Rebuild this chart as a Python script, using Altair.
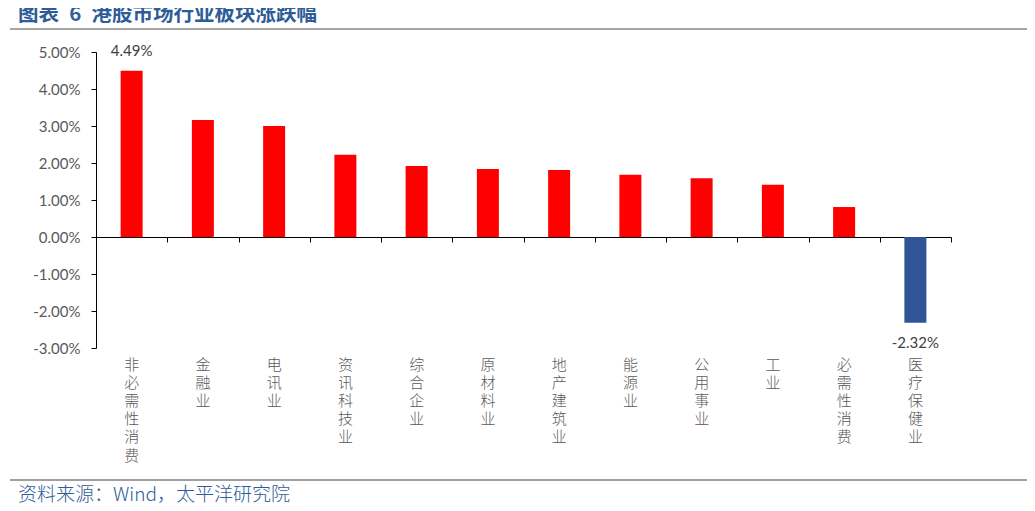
import altair as alt
import pandas as pd

categories = ["非必需性消费", "金融业", "电讯业", "资讯科技业", "综合企业", "原材料业",
              "地产建筑业", "能源业", "公用事业", "工业", "必需性消费", "医疗保健业"]
values = [4.49, 3.16, 3.00, 2.22, 1.92, 1.84, 1.81, 1.68, 1.59, 1.41, 0.81, -2.32]
labeled = ["非必需性消费", "医疗保健业"]

title_text = "图表\u20026\u2002港股市场行业板块涨跌幅"
source_text = "资料来源：Wind，太平洋研究院"

df = pd.DataFrame({"name": categories, "v": [x / 100 for x in values]})

CJK = "Noto Sans CJK SC"
NUM = "Lato"
GRAY = "#595959"
BLUE = "#2F5597"

xscale = alt.Scale(domain=categories, paddingInner=0, paddingOuter=0)
yscale = alt.Scale(domain=[-0.03, 0.05], nice=False, zero=False)
y_axis = alt.Axis(tickCount=8, format=".2%",
                  labelOverlap=False, labelFlush=False,
                  domainColor="black", tickColor="black", tickSize=5,
                  labelPadding=11, labelColor=GRAY, labelFont=NUM, labelFontSize=15,
                  grid=False)

def ych():
    return alt.Y("v:Q", scale=yscale, title=None, axis=y_axis)

base = alt.Chart(df)

bars = base.mark_bar(size=22).encode(
    x=alt.X("name:N", scale=xscale, sort=categories, title=None,
            axis=alt.Axis(orient="bottom", offset=-111, labels=False, domain=True,
                          domainColor="black", domainWidth=1, ticks=True, tickColor="black",
                          tickSize=5, tickBand="extent", grid=False)),
    y=ych(),
    color=alt.condition(alt.datum.v >= 0, alt.value("#FF0000"), alt.value(BLUE)),
)

labels_axis = base.mark_point(opacity=0, size=1).encode(
    x=alt.X("name:N", scale=xscale, sort=categories, title=None,
            axis=alt.Axis(orient="bottom", offset=0, domain=False, ticks=False, grid=False,
                          labelExpr="split(datum.label, '')", labelAngle=0,
                          labelBaseline="top", labelPadding=9, labelLineHeight=18.2,
                          labelColor=GRAY, labelFont=CJK, labelFontSize=15,
                          labelFontWeight=300)),
    y=ych(),
)

pos_text = base.transform_filter(
    alt.FieldOneOfPredicate(field="name", oneOf=labeled)
).transform_filter(alt.datum.v >= 0).mark_text(
    dy=-20, font=NUM, fontSize=15, color="#404040"
).encode(
    x=alt.X("name:N", scale=xscale, sort=categories, axis=None),
    y=ych(),
    text=alt.Text("v:Q", format=".2%"),
)

neg_text = base.transform_filter(
    alt.FieldOneOfPredicate(field="name", oneOf=labeled)
).transform_filter(alt.datum.v < 0).mark_text(
    dy=20, font=NUM, fontSize=15, color="#404040"
).encode(
    x=alt.X("name:N", scale=xscale, sort=categories, axis=None),
    y=ych(),
    text=alt.Text("v:Q", format=".2%"),
)

tdf = pd.DataFrame({"t": [title_text]})
sdf = pd.DataFrame({"t": [source_text]})

title = alt.Chart(tdf).mark_text(
    align="left", baseline="middle", font=CJK, fontSize=20.5, fontWeight="bold", color="#2E5C97"
).encode(x=alt.value(-78), y=alt.value(-37), text="t:N")

source = alt.Chart(sdf).mark_text(
    align="left", baseline="middle", font=CJK, fontSize=19, fontWeight=300, color="#2E5C97"
).encode(x=alt.value(-78), y=alt.value(443), text="t:N")

line_top = alt.Chart(tdf).mark_rule(color="#A6A6A6", strokeWidth=2).encode(
    x=alt.value(-86), x2=alt.value(931), y=alt.value(-23))
line_bot = alt.Chart(tdf).mark_rule(color="#808080", strokeWidth=1.5).encode(
    x=alt.value(-86), x2=alt.value(931), y=alt.value(428))

chart = alt.layer(
    line_bot, bars, labels_axis, pos_text, neg_text, line_top, title, source
).resolve_axis(x="independent").properties(
    width=855, height=296,
    padding={"left": 88, "top": 44, "right": 76, "bottom": 155},
    autosize=alt.AutoSizeParams(type="none"),
).configure(
    locale={"number": {"decimal": ".", "thousands": ",", "grouping": [3],
                       "currency": ["$", ""], "minus": "-"}}
).configure_view(stroke=None)

chart.save("out.html", embed_options={"renderer": "svg", "actions": False})
